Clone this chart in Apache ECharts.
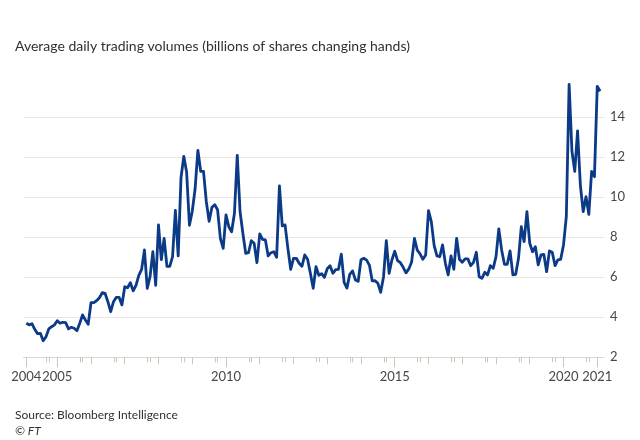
<!DOCTYPE html>
<html><head><meta charset="utf-8">
<script src="https://cdn.jsdelivr.net/npm/echarts@6/dist/echarts.min.js"></script>
<style>html,body{margin:0;padding:0;background:#fff}#c{width:640px;height:440px}</style>
</head><body><div id="c"></div>
<script>
const titleText = 'Average daily trading volumes (billions of shares changing hands)';
const sourceText = 'Source: Bloomberg Intelligence';
const creditText = '© FT';
const firstYear = 2004;
const firstMonth = 2; // February 2004, monthly data
const volumes = [
 3.70,3.62,3.68,3.40,3.18,3.20,2.83,3.03,3.42,3.53,3.62,
 3.83,3.70,3.75,3.73,3.42,3.50,3.45,3.33,3.70,4.12,3.87,3.65,
 4.73,4.73,4.83,4.98,5.23,5.20,4.78,4.28,4.78,5.00,5.00,4.62,
 5.53,5.48,5.73,5.32,5.60,6.10,6.40,7.37,5.45,6.03,7.28,5.60,
 8.62,6.88,7.95,6.55,6.55,7.03,9.35,7.07,10.98,12.05,11.25,8.60,
 9.30,10.40,12.35,11.30,11.30,9.78,8.80,9.50,9.63,9.38,7.95,7.45,
 9.12,8.53,8.28,9.20,12.10,9.28,8.20,7.20,7.23,7.83,7.70,6.73,
 8.17,7.90,7.87,7.07,7.23,7.28,7.00,10.57,8.57,8.62,7.45,6.40,
 6.95,6.95,6.70,6.55,7.12,6.90,6.20,5.45,6.53,6.10,6.18,6.00,
 6.43,6.58,6.20,6.38,6.40,7.16,5.75,5.46,6.15,6.32,5.87,5.80,
 6.88,6.95,6.86,6.60,5.82,5.83,5.70,5.25,6.02,7.83,6.20,6.88,
 7.30,6.83,6.73,6.50,6.22,6.42,6.77,7.95,7.36,7.17,6.90,7.12,
 9.33,8.78,7.60,7.07,7.03,7.62,6.70,6.12,7.07,6.40,7.95,6.90,
 6.75,6.92,6.92,6.58,6.75,7.25,6.03,5.95,6.25,6.12,6.58,6.45,
 7.03,8.42,7.37,6.65,6.65,7.32,6.12,6.15,6.95,8.53,7.78,9.28,
 7.70,7.28,7.53,6.62,7.12,7.15,6.28,7.32,7.25,6.58,6.87,6.90,
 7.62,9.03,15.65,12.30,11.30,13.32,10.60,9.28,10.03,9.15,11.30,11.03,
 15.55,15.30
];
const xLabelYears = [2004, 2005, 2010, 2015, 2020, 2021];
const yTickValues = [2, 4, 6, 8, 10, 12, 14];

const points = volumes.map((v, i) => [firstYear + (firstMonth - 1 + i) / 12, v]);
const labelValues = xLabelYears.map(y => y === firstYear ? points[0][0] : y);
const plainYears = [];
const pairTicks = [];
for (let y = 2005; y <= 2021; y++) {
  if (xLabelYears.indexOf(y) < 0) plainYears.push(y);
  pairTicks.push(y - 0.32, y - 0.25);
}
const font = 'Lato, "Noto Sans", sans-serif';
const tickColor = '#cdc4bb';
const xMin = 2004, xMax = 2021.2;

const baseX = {
  type: 'value', min: xMin, max: xMax, position: 'bottom',
  splitLine: { show: false }, axisLine: { show: false },
  axisLabel: { show: false }
};

const chart = echarts.init(document.getElementById('c'), null, { renderer: 'canvas' });
chart.setOption({
  animation: false,
  backgroundColor: '#ffffff',
  textStyle: { fontFamily: font },
  title: [
    { text: titleText, left: 10, top: 34, textStyle: { fontFamily: font, fontSize: 14, fontWeight: 'normal', color: '#33302e' } },
    { text: sourceText, left: 10, top: 404, textStyle: { fontFamily: font, fontSize: 12, fontWeight: 'normal', color: '#33302e' } },
    { text: creditText, left: 10, top: 420, textStyle: { fontFamily: font, fontSize: 12, fontWeight: 'normal', fontStyle: 'italic', color: '#33302e' } }
  ],
  grid: { left: 23.5, right: 36, top: 77.3, bottom: 82.7, containLabel: false, outerBoundsMode: 'none' },
  xAxis: [
    Object.assign({}, baseX, {
      axisLine: { show: true, lineStyle: { color: '#ddd6ce', width: 1 } },
      axisTick: { show: true, length: 10, customValues: labelValues, lineStyle: { color: tickColor } },
      axisLabel: { show: true, customValues: labelValues, margin: 13, fontSize: 13, color: '#4a4643', fontFamily: font,
        formatter: v => String(Math.floor(v)) }
    }),
    Object.assign({}, baseX, {
      axisTick: { show: true, length: 7, customValues: plainYears, lineStyle: { color: tickColor } }
    }),
    Object.assign({}, baseX, {
      axisTick: { show: true, length: 5, customValues: pairTicks, lineStyle: { color: tickColor } }
    })
  ],
  yAxis: {
    type: 'value', position: 'right', min: 2, max: 16, interval: 2,
    axisLine: { show: false }, axisTick: { show: false },
    splitLine: { show: true, showMaxLine: false, lineStyle: { color: '#ebe6e0', width: 1 } },
    axisLabel: { margin: 6, fontSize: 13, color: '#4a4643', fontFamily: font,
      customValues: yTickValues }
  },
  series: [{
    type: 'line', xAxisIndex: 0, yAxisIndex: 0, data: points,
    showSymbol: false, symbol: 'none', clip: false,
    lineStyle: { color: '#0b3a86', width: 2.8, join: 'round' }
  }]
});
</script></body></html>
